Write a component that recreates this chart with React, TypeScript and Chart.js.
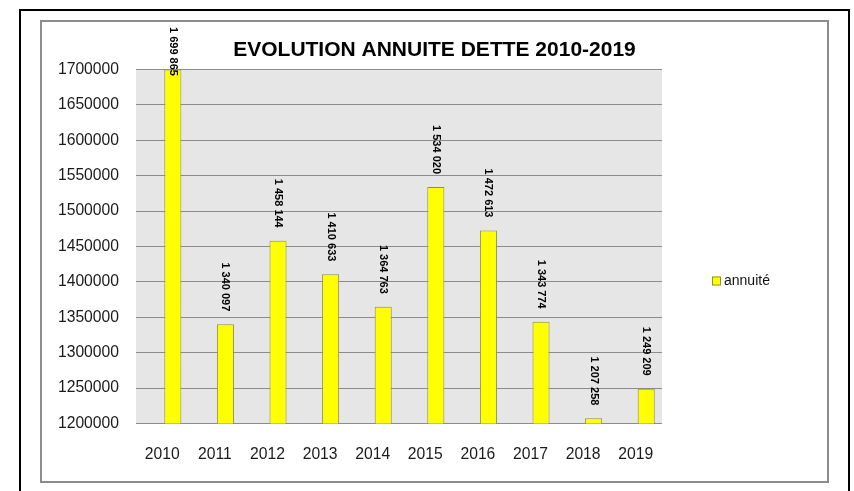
import React, { useEffect, useRef } from 'react';
import { Chart, registerables } from 'chart.js';

Chart.register(...registerables);

// ---- data ----
const categories = ['2010', '2011', '2012', '2013', '2014', '2015', '2016', '2017', '2018', '2019'];
const annuite = [1699865, 1340097, 1458144, 1410633, 1364763, 1534020, 1472613, 1343774, 1207258, 1249209];
const seriesName = 'annuité';
const chartTitle = 'EVOLUTION ANNUITE DETTE 2010-2019';
const yMin = 1200000;
const yMax = 1700000;
const yStep = 50000;

const FONT = '"Liberation Sans", Arial, sans-serif';
const BAR_FILL = '#ffff00';
const BAR_BORDER = '#8f8f4a';

function groupDigits(v: number): string {
  return String(Math.round(v)).replace(/\B(?=(\d{3})+(?!\d))/g, ' ');
}

const plotBgPlugin = {
  id: 'plotBg',
  beforeDraw(chart: any) {
    const { ctx, chartArea } = chart;
    ctx.save();
    ctx.fillStyle = '#e6e6e6';
    ctx.fillRect(chartArea.left, chartArea.top, chartArea.right - chartArea.left, chartArea.bottom - chartArea.top);
    ctx.restore();
  },
};

const dataLabelPlugin = {
  id: 'vertLabels',
  afterDatasetsDraw(chart: any) {
    const { ctx } = chart;
    const meta = chart.getDatasetMeta(1);
    const values = chart.data.datasets[1].data as number[];
    ctx.save();
    ctx.font = `bold 11px ${FONT}`;
    ctx.fillStyle = '#000';
    meta.data.forEach((el: any, i: number) => {
      const text = groupDigits(values[i]);
      const w = ctx.measureText(text).width;
      let end = el.y - 13;
      if (end - w < 5) end = 5 + w;
      ctx.save();
      ctx.translate(el.x, end);
      ctx.rotate(Math.PI / 2);
      ctx.textAlign = 'right';
      ctx.textBaseline = 'middle';
      ctx.fillText(text, 0, 0);
      ctx.restore();
    });
    ctx.restore();
  },
};

const legendPlugin = {
  id: 'sideLegend',
  afterDraw(chart: any) {
    const { ctx, chartArea } = chart;
    const x0 = chartArea.right + 50;
    const yc = (chartArea.top + chartArea.bottom) / 2 + 34.5;
    ctx.save();
    ctx.fillStyle = BAR_FILL;
    ctx.fillRect(x0, yc - 4.5, 9, 9);
    ctx.strokeStyle = BAR_BORDER;
    ctx.lineWidth = 1;
    ctx.strokeRect(x0 + 0.5, yc - 4, 8, 8);
    ctx.fillStyle = '#111';
    ctx.font = `14px ${FONT}`;
    ctx.textAlign = 'left';
    ctx.textBaseline = 'middle';
    ctx.fillText(chart.data.datasets[1].label, x0 + 12, yc);
    ctx.restore();
  },
};

function ChartView() {
  const ref = useRef<HTMLCanvasElement | null>(null);
  useEffect(() => {
    if (!ref.current) return;
    const chart = new Chart(ref.current, {
      type: 'bar',
      data: {
        labels: categories,
        datasets: [
          { label: '', data: [], backgroundColor: 'transparent' },
          {
            label: seriesName,
            data: annuite,
            backgroundColor: BAR_FILL,
            borderColor: BAR_BORDER,
            borderWidth: 1,
          },
        ],
      },
      options: {
        responsive: false,
        animation: false,
        datasets: { bar: { categoryPercentage: 0.8, barPercentage: 0.81 } },
        layout: { padding: 0 },
        plugins: {
          legend: { display: false },
          tooltip: { enabled: false },
          title: {
            display: true,
            text: chartTitle,
            color: '#000',
            font: { family: FONT, size: 21, weight: 'bold', lineHeight: 1.2 },
            padding: { top: 15.7, bottom: 6.6 },
          },
        },
        scales: {
          x: {
            grid: { display: false },
            border: { display: false },
            ticks: { color: '#1a1a1a', font: { family: FONT, size: 15.7 }, padding: 14, maxRotation: 0 },
            afterFit: (s: any) => { s.height = 57.5; },
          },
          y: {
            min: yMin,
            max: yMax,
            grid: { color: '#8c8c8c', lineWidth: 1, drawTicks: false },
            border: { display: false },
            ticks: {
              stepSize: yStep,
              color: '#1a1a1a',
              font: { family: FONT, size: 15.7 },
              padding: 17,
              callback: (v: any) => String(v),
            },
            afterFit: (s: any) => { s.width = 94; },
          },
          legendSpace: {
            type: 'linear',
            position: 'right',
            display: true,
            grid: { display: false },
            border: { display: false },
            ticks: { display: false },
            afterFit: (s: any) => { s.width = 165; },
          },
        },
      },
      plugins: [plotBgPlugin, dataLabelPlugin, legendPlugin],
    } as any);
    return () => chart.destroy();
  }, []);
  return <canvas ref={ref} width={785} height={459} style={{ display: 'block' }} />;
}

export default function App() {
  return (
    <div style={{ position: 'fixed', left: 0, top: 0, width: 854, height: 491, background: '#fff', overflow: 'hidden' }}>
      <div style={{ position: 'absolute', left: 19, top: 9, width: 827, height: 500, border: '2px solid #000', boxSizing: 'content-box' }} />
      <div style={{ position: 'absolute', left: 40, top: 20, width: 785, height: 459, border: '2px solid #8c8c8c', background: '#fff' }}>
        <ChartView />
      </div>
    </div>
  );
}
